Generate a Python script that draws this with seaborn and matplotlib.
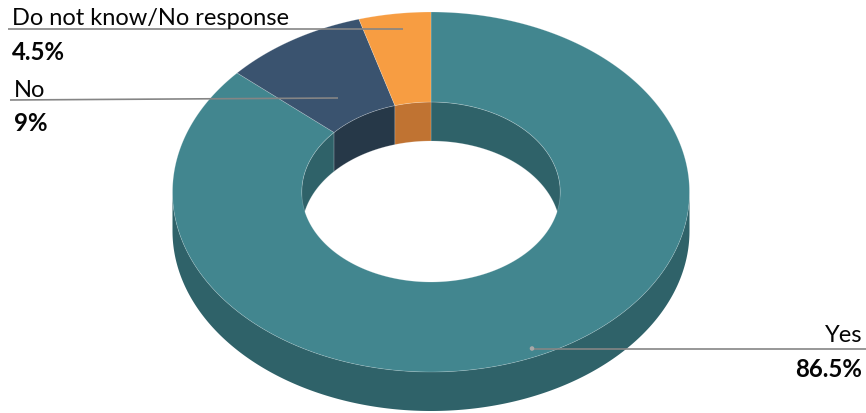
import numpy as np
import matplotlib
matplotlib.use("Agg")
import matplotlib.pyplot as plt
from matplotlib.patches import Polygon, Circle
import seaborn as sns

# Survey answers
categories = ["Yes", "No", "Do not know/No response"]
shares = [86.5, 9.0, 4.5]
value_labels = ["86.5%", "9%", "4.5%"]

top_colors = ["#42868F", "#3A536F", "#F79D42"]
side_colors = ["#2F6269", "#263848", "#C07332"]

sns.set_theme(style="white")
plt.rcParams["font.family"] = ["Lato", "DejaVu Sans"]

W, H = 866, 414
fig = plt.figure(figsize=(W / 100, H / 100), dpi=100)
ax = fig.add_axes([0, 0, 1, 1])
ax.set_xlim(0, W)
ax.set_ylim(H, 0)
ax.axis("off")

# 3D donut geometry (pixel space, y grows downward)
cx, cy = 431.0, 193.0
rx, ry = 258.5, 180.0
inner = 0.5
depth = 39.0


def pt(theta_deg, scale, dy=0.0):
    t = np.radians(theta_deg)
    return cx + rx * scale * np.sin(t), cy - ry * scale * np.cos(t) + dy


def arc(a0, a1, scale, dy=0.0, n=None):
    if n is None:
        n = max(4, int(abs(a1 - a0) * 1.5))
    th = np.linspace(a0, a1, n)
    xs, ys = pt(th, scale, dy)
    return np.column_stack([xs, ys])


bounds = np.concatenate([[0], np.cumsum(shares)]) / 100 * 360
spans = list(zip(bounds[:-1], bounds[1:]))


def overlap(a0, a1, b0, b1):
    lo, hi = max(a0, b0), min(a1, b1)
    return (lo, hi) if hi > lo else None


# outer wall: front half (90..270 degrees)
for (a0, a1), col in zip(spans, side_colors):
    seg = overlap(a0, a1, 90, 270)
    if seg:
        top = arc(seg[0], seg[1], 1.0)
        bot = arc(seg[1], seg[0], 1.0, depth)
        ax.add_patch(Polygon(np.vstack([top, bot]), closed=True,
                             facecolor=col, edgecolor="none"))

# inner wall: back half (-90..90 degrees), seen through the hole
for (a0, a1), col in zip(spans, side_colors):
    for shift in (0, -360):
        seg = overlap(a0 + shift, a1 + shift, -90, 90)
        if seg:
            top = arc(seg[0], seg[1], inner)
            bot = arc(seg[1], seg[0], inner, depth)
            ax.add_patch(Polygon(np.vstack([top, bot]), closed=True,
                                 facecolor=col, edgecolor=(1, 1, 1, 0.25),
                                 linewidth=0.5))

# top face sectors
for (a0, a1), col in zip(spans, top_colors):
    outer_arc = arc(a0, a1, 1.0)
    inner_arc = arc(a1, a0, inner)
    ax.add_patch(Polygon(np.vstack([outer_arc, inner_arc]), closed=True,
                         facecolor=col, edgecolor=(1, 1, 1, 0.25),
                         linewidth=0.5))

# labels with leader lines
line_col = "#858585"
txt_col = "#050505"
fs_name, fs_val = 17, 17.3

# Do not know / No response
ax.plot([8, 403], [29.5, 29.5], color=line_col, lw=1.2, solid_capstyle="butt")
ax.text(12, 25, categories[2], fontsize=fs_name, color=txt_col,
        ha="left", va="baseline")
ax.text(12, 60, value_labels[2], fontsize=fs_val, fontweight="bold",
        color=txt_col, ha="left", va="baseline")

# No
ax.plot([10, 338], [101, 99], color=line_col, lw=1.2, solid_capstyle="butt")
ax.text(14, 97.5, categories[1], fontsize=fs_name, color=txt_col,
        ha="left", va="baseline")
ax.text(14, 131, value_labels[1], fontsize=fs_val, fontweight="bold",
        color=txt_col, ha="left", va="baseline")

# Yes
ax.plot([532, 866], [349.5, 349.5], color=line_col, lw=1.2,
        solid_capstyle="butt")
ax.add_patch(Circle((532, 349.5), 2.3, facecolor="#A8A8A8",
                    edgecolor="none", zorder=5))
ax.text(862, 342.5, categories[0], fontsize=fs_name, color=txt_col,
        ha="right", va="baseline")
ax.text(862, 377, value_labels[0], fontsize=fs_val, fontweight="bold",
        color=txt_col, ha="right", va="baseline")

fig.savefig("out.png", dpi=100, facecolor="white")
